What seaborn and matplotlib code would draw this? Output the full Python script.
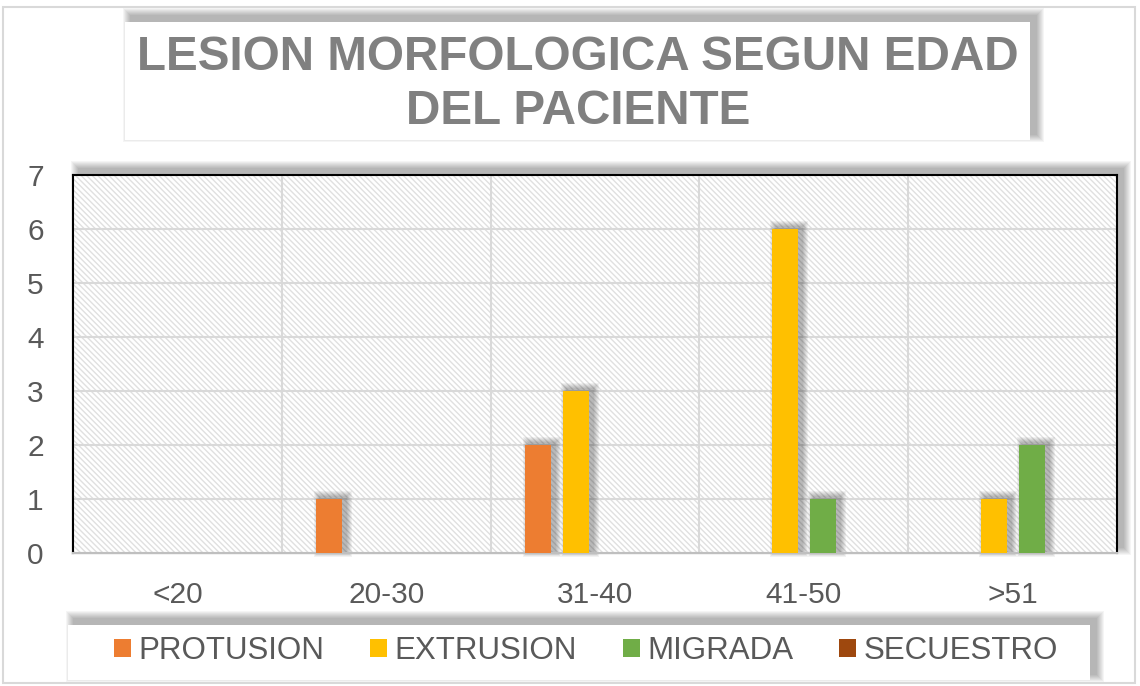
import numpy as np
import pandas as pd
import matplotlib
matplotlib.use("Agg")
import matplotlib.pyplot as plt
from matplotlib.patches import Rectangle
from matplotlib.transforms import IdentityTransform
import seaborn as sns

# ── Data ──────────────────────────────────────────────────────────────────
age_groups = ['<20', '20-30', '31-40', '41-50', '>51']
series_names = ['PROTUSION', 'EXTRUSION', 'MIGRADA', 'SECUESTRO']
protusion = [0, 1, 2, 0, 0]
extrusion = [0, 0, 3, 6, 1]
migrada = [0, 0, 0, 1, 2]
secuestro = [0, 0, 0, 0, 0]
colors = ['#ED7D31', '#FFC000', '#70AD47', '#9E480E']

df = pd.DataFrame({
    'edad': age_groups * 4,
    'lesion': np.repeat(series_names, len(age_groups)),
    'n': protusion + extrusion + migrada + secuestro,
})

sns.set_style("white")
plt.rcParams['font.family'] = ['Liberation Sans', 'DejaVu Sans']
plt.rcParams['hatch.linewidth'] = 1.0
plt.rcParams['hatch.color'] = '#e0e0e0'

W, H = 1140, 686
fig = plt.figure(figsize=(W / 100, H / 100), dpi=100)
fig.patch.set_facecolor('white')


def soft_shadow(target, x0, y0, w, h, dx, dy, blur, alpha=0.07, zorder=0):
    # stacked translucent rectangles in pixel coords -> blurred shadow
    for i in range(blur, 0, -1):
        target.add_artist(Rectangle((x0 + dx - i, y0 + dy - i), w + 2 * i, h + 2 * i,
                                    transform=IdentityTransform(), facecolor='black',
                                    edgecolor='none', alpha=alpha, zorder=zorder, clip_on=False))


# outer frame
fig.add_artist(Rectangle((3, 3), W - 8, H - 10, transform=IdentityTransform(),
                         fill=False, edgecolor='#d9d9d9', lw=1.5, zorder=-5))

# ── Plot area ─────────────────────────────────────────────────────────────
ax_l, ax_r, ax_t, ax_b = 73, 1117, 175, 553
ax = fig.add_axes([ax_l / W, 1 - ax_b / H, (ax_r - ax_l) / W, (ax_b - ax_t) / H])
soft_shadow(fig, ax_l, H - ax_b, ax_r - ax_l, ax_b - ax_t, 6, 6, 8, alpha=0.04, zorder=-2)

bg = Rectangle((0, 0), 1, 1, transform=ax.transAxes, facecolor='white',
               edgecolor='#e0e0e0', hatch='\\' * 6, lw=0, zorder=0)
ax.add_patch(bg)

sns.barplot(data=df, x='edad', y='n', hue='lesion', palette=colors,
            width=0.73, gap=0.32, ax=ax, saturation=1, zorder=3, legend=True)

ax.set_ylim(0, 7)
ax.set_xlim(-0.5, 4.5)

# bar shadows
for bar in list(ax.patches):
    if bar is bg:
        continue
    bar.set_linewidth(0)
    if bar.get_height() <= 0:
        continue
    (x0, y0), (x1, y1) = ax.transData.transform([(bar.get_x(), 0),
                                                 (bar.get_x() + bar.get_width(), bar.get_height())])
    soft_shadow(ax, x0, y0, x1 - x0, y1 - y0, 4, 2, 6, alpha=0.05, zorder=2.5)

ax.set_yticks(range(0, 8))
ax.set_xticks(range(len(age_groups)))
ax.set_xticks(np.arange(0.5, 4.5, 1), minor=True)
ax.grid(True, axis='y', color='#d9d9d9', lw=1.5, zorder=1)
ax.grid(True, axis='x', which='minor', color='#d9d9d9', lw=1.5, zorder=1)
ax.grid(False, axis='x', which='major')
ax.set_axisbelow(True)
ax.tick_params(axis='both', which='both', length=0, labelsize=21.5, colors='#595959')
ax.tick_params(axis='x', pad=20)
ax.tick_params(axis='y', pad=21)
ax.set_xlabel('')
ax.set_ylabel('')

for side in ['left', 'top', 'right']:
    ax.spines[side].set_color('black')
    ax.spines[side].set_linewidth(1.5)
ax.spines['bottom'].set_color('#bfbfbf')
ax.spines['bottom'].set_linewidth(1.5)

# ── Legend ────────────────────────────────────────────────────────────────
handles, labels = ax.get_legend_handles_labels()
ax.get_legend().remove()
lx0, lx1, ly0, ly1 = 68, 1090, 625, 680
soft_shadow(fig, lx0, H - ly1, lx1 - lx0, ly1 - ly0, 6, 6, 8, alpha=0.04, zorder=1)
fig.add_artist(Rectangle((lx0, H - ly1), lx1 - lx0, ly1 - ly0, transform=IdentityTransform(),
                         facecolor='white', edgecolor='none', zorder=2))
leg = fig.legend(handles, labels, loc='center', bbox_to_anchor=(586 / W, 1 - 651 / H), ncol=4,
                 frameon=False, fontsize=22.5, handlelength=0.55, handleheight=0.55,
                 handletextpad=0.25, columnspacing=1.45, labelcolor='#595959')
leg.set_zorder(3)

# ── Title box ─────────────────────────────────────────────────────────────
tx0, tx1, ty0, ty1 = 125, 1030, 22, 140
soft_shadow(fig, tx0, H - ty1, tx1 - tx0, ty1 - ty0, 6, 6, 8, alpha=0.04, zorder=1)
fig.add_artist(Rectangle((tx0, H - ty1), tx1 - tx0, ty1 - ty0, transform=IdentityTransform(),
                         facecolor='white', edgecolor='none', zorder=2))
fig.text(578 / W, 1 - 58 / H, 'LESION MORFOLOGICA SEGUN EDAD', ha='center', va='center',
         fontsize=34.3, fontweight='bold', color='#808080', zorder=3)
fig.text(578 / W, 1 - 112 / H, 'DEL PACIENTE', ha='center', va='center',
         fontsize=34.3, fontweight='bold', color='#808080', zorder=3)

fig.savefig('out.png', dpi=100)
